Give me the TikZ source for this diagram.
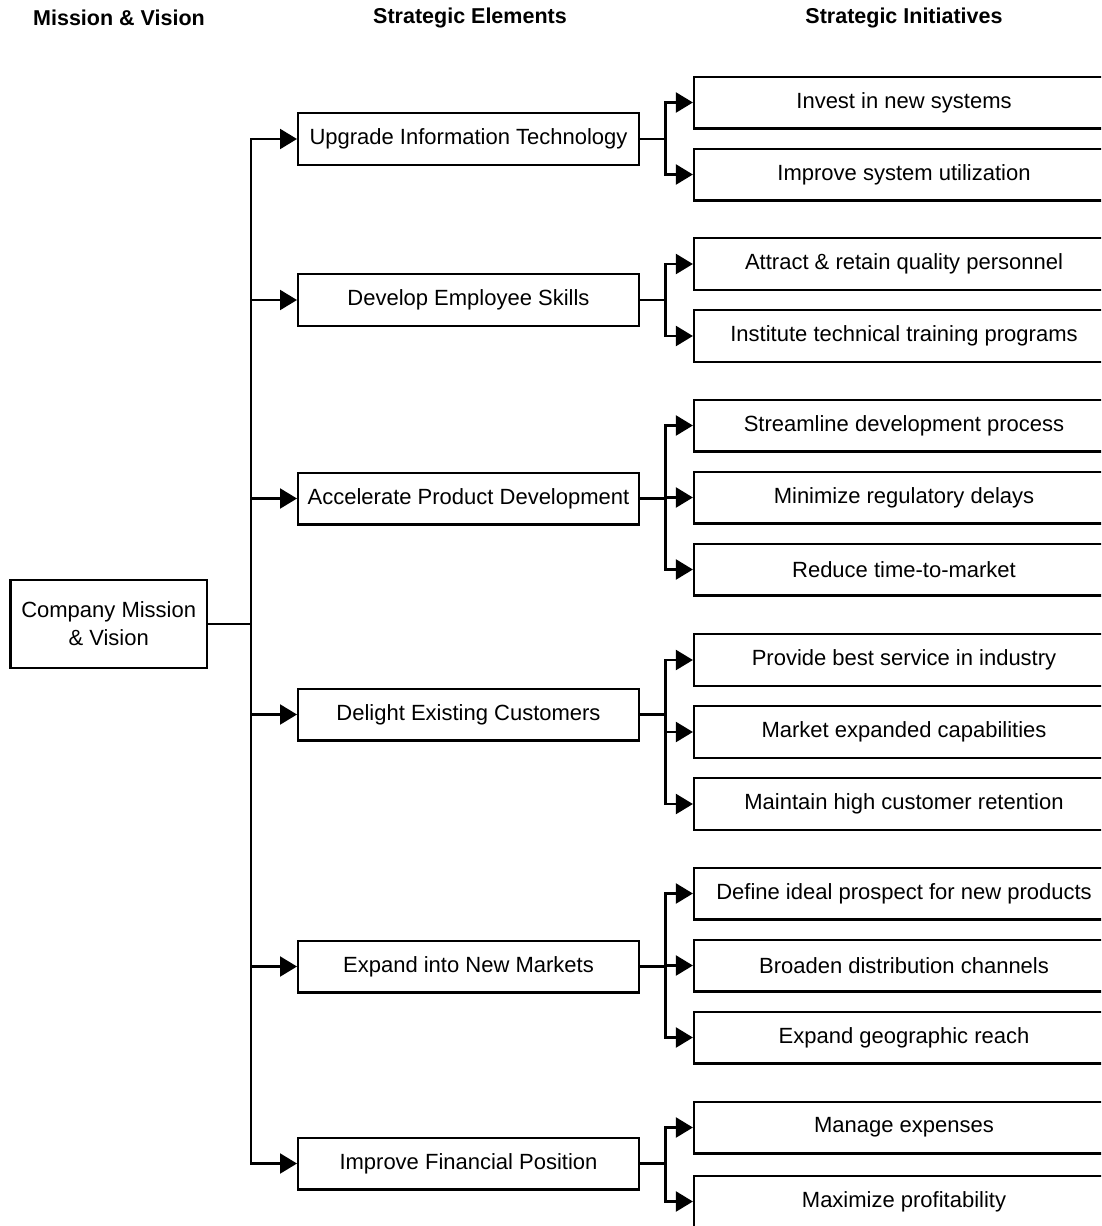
\documentclass[tikz,border=0pt]{standalone}
\usepackage{fontspec}
\setmainfont{Liberation Sans}
\usetikzlibrary{arrows.meta}
\begin{document}
\begin{tikzpicture}[x=1pt,y=-1pt,
  txt/.style={font=\fontsize{22}{28}\selectfont, align=center},
  head/.style={font=\fontsize{21.5}{26}\selectfont\bfseries},
  box/.style={draw, line width=2.2pt, inner sep=0pt, txt},
  rootbox/.style={box, minimum width=196.5pt, minimum height=87.8pt},
  elembox/.style={box, minimum width=340.8pt, minimum height=51.8pt},
  initbox/.style={box, minimum width=420pt, minimum height=51.8pt},
  wire/.style={line width=2.2pt},
  arr/.style={wire, -{Triangle[length=17pt,width=20pt]}},
  arrs/.style={wire, {Triangle[length=17pt,width=20pt]}-{Triangle[length=17pt,width=20pt]}}]
\useasboundingbox (0,0) rectangle (1101,1226);
\clip (0,0) rectangle (1101,1226);

% column headings
\node[head] (h1) at (119,18) {Mission \& Vision};
\node[head] (h2) at (470,18) {Strategic Elements};
\node[head] (h3) at (904,18) {Strategic Initiatives};

% mission box
\node[rootbox] (root) at (108.7,624) {Company Mission\\\& Vision};

% strategic elements
\node[elembox] (e1) at (468.5,139)  {Upgrade Information Technology};
\node[elembox] (e2) at (468.5,300)  {Develop Employee Skills};
\node[elembox] (e3) at (468.5,498.5){Accelerate Product Development};
\node[elembox] (e4) at (468.5,714.5){Delight Existing Customers};
\node[elembox] (e5) at (468.5,966.5){Expand into New Markets};
\node[elembox] (e6) at (468.5,1163.5){Improve Financial Position};

% strategic initiatives
\node[initbox] (i11) at (904,102.5) {Invest in new systems};
\node[initbox] (i12) at (904,174.5) {Improve system utilization};
\node[initbox] (i21) at (904,264)   {Attract \& retain quality personnel};
\node[initbox] (i22) at (904,336)   {Institute technical training programs};
\node[initbox] (i31) at (904,425.5) {Streamline development process};
\node[initbox] (i32) at (904,497.5) {Minimize regulatory delays};
\node[initbox] (i33) at (904,569.5) {Reduce time-to-market};
\node[initbox] (i41) at (904,660)   {Provide best service in industry};
\node[initbox] (i42) at (904,732)   {Market expanded capabilities};
\node[initbox] (i43) at (904,804)   {Maintain high customer retention};
\node[initbox] (i51) at (904,893.5) {Define ideal prospect for new products};
\node[initbox] (i52) at (904,965.5) {Broaden distribution channels};
\node[initbox] (i53) at (904,1037.5){Expand geographic reach};
\node[initbox] (i61) at (904,1127.5){Manage expenses};
\node[initbox] (i62) at (904,1201.5){Maximize profitability};

% vertical rails
\coordinate (trunk) at (251,0);
\coordinate (br) at (665.5,0);

% trunk from the mission box to every element
\draw[wire] (root.east) -- (trunk |- root.east);
\draw[arrs] (e1.west) -- (trunk |- e1.west) -- (trunk |- e6.west) -- (e6.west);
\foreach \e in {e2,e3,e4,e5}
  \draw[arr] (trunk |- \e.west) -- (\e.west);

% branches from each element to its initiatives
\foreach \e/\a/\b in {e1/i11/i12, e2/i21/i22, e3/i31/i33, e4/i41/i43, e5/i51/i53, e6/i61/i62}{
  \draw[wire] (\e.east) -- (br |- \e.east);
  \draw[arrs] (\a.west) -- (br |- \a.west) -- (br |- \b.west) -- (\b.west);
}
\foreach \m in {i32,i42,i52}
  \draw[arr] (br |- \m.west) -- (\m.west);
\end{tikzpicture}
\end{document}
